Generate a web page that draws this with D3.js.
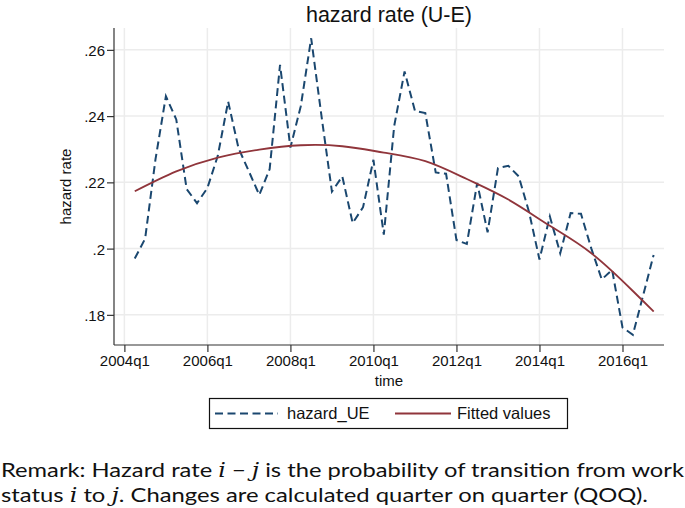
<!DOCTYPE html>
<html>
<head>
<meta charset="utf-8">
<script src="https://cdn.jsdelivr.net/npm/d3@7"></script>
<style>
  html, body { margin: 0; padding: 0; background: #fff; }
  svg { display: block; }
</style>
</head>
<body>
<svg id="chart" width="685" height="508"></svg>
<script>
// ---------- data ----------
const quarters = [
  "2004q2","2004q3","2004q4","2005q1","2005q2","2005q3","2005q4","2006q1","2006q2","2006q3","2006q4",
  "2007q1","2007q2","2007q3","2007q4","2008q1","2008q2","2008q3","2008q4","2009q1","2009q2","2009q3",
  "2009q4","2010q1","2010q2","2010q3","2010q4","2011q1","2011q2","2011q3","2011q4","2012q1","2012q2",
  "2012q3","2012q4","2013q1","2013q2","2013q3","2013q4","2014q1","2014q2","2014q3","2014q4","2015q1",
  "2015q2","2015q3","2015q4","2016q1","2016q2","2016q3","2016q4"
];
const hazardUE = [
  0.1970, 0.2030, 0.2270, 0.2460, 0.2390, 0.2180, 0.2137, 0.2183, 0.2280, 0.2444, 0.2303,
  0.2233, 0.2162, 0.2240, 0.2555, 0.2305, 0.2430, 0.2635, 0.2399, 0.2172, 0.2218, 0.2077,
  0.2125, 0.2268, 0.2042, 0.2370, 0.2535, 0.2416, 0.2409, 0.2230, 0.2226, 0.2026, 0.2014,
  0.2198, 0.2049, 0.2243, 0.2250, 0.2218, 0.2110, 0.1967, 0.2097, 0.1986, 0.2107, 0.2105,
  0.2000, 0.1907, 0.1936, 0.1762, 0.1740, 0.1860, 0.1981
];
const fittedQuarters = ["2004q2","2005q2","2006q2","2007q2","2008q2","2009q2","2010q2",
  "2011q2","2012q2","2013q2","2014q2","2015q2","2016q2","2016q4"];
const fittedValues = [0.2173, 0.2233, 0.2275, 0.2299, 0.2312, 0.2309, 0.2290,
  0.2264, 0.2210, 0.2148, 0.2069, 0.1986, 0.1872, 0.1810];
const xTickLabels = ["2004q1","2006q1","2008q1","2010q1","2012q1","2014q1","2016q1"];
const yTickValues = [0.18, 0.20, 0.22, 0.24, 0.26];
const yTickLabels = [".18", ".2", ".22", ".24", ".26"];
const titleText = "hazard rate (U-E)";
const yTitle = "hazard rate";
const xTitle = "time";
const legendLabels = ["hazard_UE", "Fitted values"];

// ---------- helpers ----------
const qIndex = s => { const [y, q] = s.split("q").map(Number); return (y - 2004) * 4 + (q - 1); };

const svg = d3.select("#chart");
const font = "'Liberation Sans', Arial, Helvetica, sans-serif";
const plot = { left: 114, right: 664, top: 28, bottom: 345 };

const x = d3.scaleLinear().domain([-1, 52]).range([plot.left, plot.right]);
const y = d3.scaleLinear().domain([0.1709, 0.2666]).range([plot.bottom, plot.top]);

const navy = "#1a476f";
const maroon = "#90353b";
const grid = "#ececec";

// gridlines
svg.append("g").selectAll("line").data(yTickValues).join("line")
  .attr("x1", plot.left).attr("x2", plot.right)
  .attr("y1", d => y(d)).attr("y2", d => y(d))
  .attr("stroke", grid).attr("stroke-width", 1.5);
svg.append("g").selectAll("line").data(xTickLabels).join("line")
  .attr("x1", d => x(qIndex(d))).attr("x2", d => x(qIndex(d)))
  .attr("y1", plot.top).attr("y2", plot.bottom)
  .attr("stroke", grid).attr("stroke-width", 1.5);

// series
const hazardData = quarters.map((q, i) => ({ t: qIndex(q), v: hazardUE[i] }));
const fitData = fittedQuarters.map((q, i) => ({ t: qIndex(q), v: fittedValues[i] }));

svg.append("path").datum(hazardData)
  .attr("fill", "none").attr("stroke", navy).attr("stroke-width", 2)
  .attr("stroke-dasharray", "8,4.5")
  .attr("d", d3.line().x(d => x(d.t)).y(d => y(d.v)));

svg.append("path").datum(fitData)
  .attr("fill", "none").attr("stroke", maroon).attr("stroke-width", 1.8)
  .attr("d", d3.line().curve(d3.curveNatural).x(d => x(d.t)).y(d => y(d.v)));

// axes
const yAxis = d3.axisLeft(y).tickValues(yTickValues)
  .tickFormat((d, i) => yTickLabels[i]).tickSize(7).tickSizeOuter(0);
const gy = svg.append("g").attr("transform", `translate(${plot.left},0)`).call(yAxis);
gy.select(".domain").attr("d", `M0,${plot.top}V${plot.bottom}`);

const xAxis = d3.axisBottom(x).tickValues(xTickLabels.map(qIndex))
  .tickFormat((d, i) => xTickLabels[i]).tickSize(7).tickSizeOuter(0);
const gx = svg.append("g").attr("transform", `translate(0,${plot.bottom})`).call(xAxis);
gx.select(".domain").attr("d", `M${plot.left},0H${plot.right}`);

[gx, gy].forEach(g => {
  g.selectAll(".domain, .tick line").attr("stroke", "#333").attr("stroke-width", 1.2);
  g.selectAll(".tick text").attr("font-family", font).attr("font-size", 15).attr("fill", "#111");
});
gy.selectAll(".tick text").attr("x", -9).attr("dy", "0.36em");
gx.selectAll(".tick text").attr("y", 10).attr("dy", "0.72em");

// titles
svg.append("text").attr("x", (plot.left + plot.right) / 2).attr("y", 22)
  .attr("text-anchor", "middle").attr("font-family", font).attr("font-size", 21.5)
  .attr("fill", "#111").text(titleText);
svg.append("text").attr("transform", `translate(71,${(plot.top + plot.bottom) / 2}) rotate(-90)`)
  .attr("text-anchor", "middle").attr("font-family", font).attr("font-size", 15)
  .attr("fill", "#111").text(yTitle);
svg.append("text").attr("x", (plot.left + plot.right) / 2).attr("y", 386)
  .attr("text-anchor", "middle").attr("font-family", font).attr("font-size", 15)
  .attr("fill", "#111").text(xTitle);

// legend
const lg = svg.append("g");
lg.append("rect").attr("x", 209.5).attr("y", 398.5).attr("width", 358).attr("height", 30)
  .attr("fill", "#fff").attr("stroke", "#111").attr("stroke-width", 1.2);
lg.append("line").attr("x1", 215).attr("x2", 278).attr("y1", 413.5).attr("y2", 413.5)
  .attr("stroke", navy).attr("stroke-width", 2).attr("stroke-dasharray", "8,4.5");
lg.append("text").attr("x", 287).attr("y", 419).attr("font-family", font)
  .attr("font-size", 16.5).attr("fill", "#111").text(legendLabels[0]);
lg.append("line").attr("x1", 395).attr("x2", 451).attr("y1", 413.5).attr("y2", 413.5)
  .attr("stroke", maroon).attr("stroke-width", 1.8);
lg.append("text").attr("x", 457).attr("y", 419).attr("font-family", font)
  .attr("font-size", 16.5).attr("fill", "#111").text(legendLabels[1]);

// remark
const rfont = "Lato, 'Open Sans', sans-serif";
const mfont = "'DejaVu Serif', 'Liberation Serif', serif";
const r1 = svg.append("text").attr("x", 1).attr("y", 477).attr("font-family", rfont)
  .attr("font-size", 19.5).attr("fill", "#111")
  .attr("textLength", 683).attr("lengthAdjust", "spacingAndGlyphs");
r1.append("tspan").text("Remark: Hazard rate ");
r1.append("tspan").attr("font-family", mfont).attr("font-style", "italic").text("i");
r1.append("tspan").text(" \u2212 ");
r1.append("tspan").attr("font-family", mfont).attr("font-style", "italic").text("j");
r1.append("tspan").text(" is the probability of transition from work");

const r2 = svg.append("text").attr("x", 1).attr("y", 502).attr("font-family", rfont)
  .attr("font-size", 19.5).attr("fill", "#111")
  .attr("textLength", 647).attr("lengthAdjust", "spacingAndGlyphs");
r2.append("tspan").text("status ");
r2.append("tspan").attr("font-family", mfont).attr("font-style", "italic").text("i");
r2.append("tspan").text(" to ");
r2.append("tspan").attr("font-family", mfont).attr("font-style", "italic").text("j");
r2.append("tspan").text(". Changes are calculated quarter on quarter (QOQ).");
</script>
</body>
</html>
